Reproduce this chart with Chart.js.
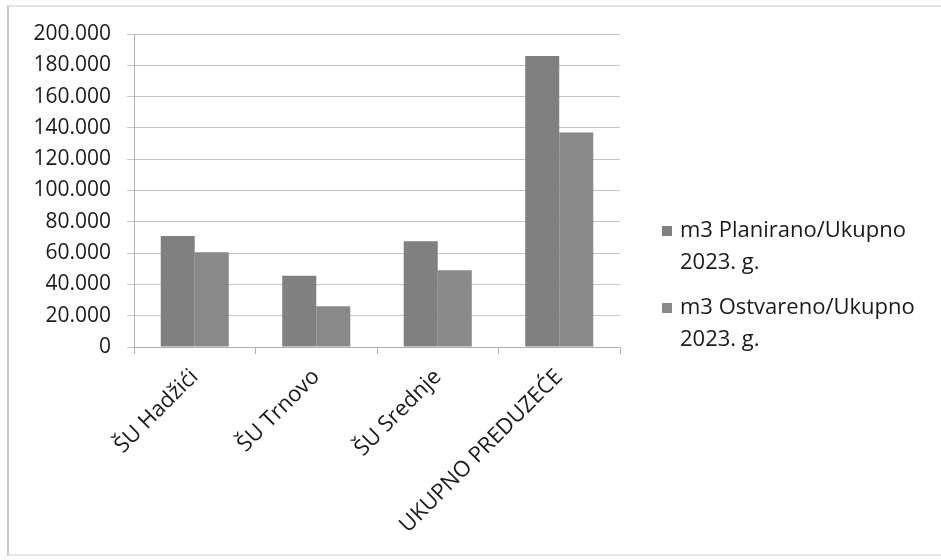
<!DOCTYPE html>
<html>
<head>
<meta charset="utf-8">
<script src="https://cdn.jsdelivr.net/npm/chart.js@4.4.1/dist/chart.umd.min.js"></script>
<style>
  html, body { margin: 0; padding: 0; background: #fff; }
  #wrap { position: relative; width: 941px; height: 560px; }
  #frame { position: absolute; left: 7px; top: 5px; width: 940px; height: 547px;
           border-left: 2px solid #c8c8c8; border-top: 2px solid #e4e4e4; border-bottom: 2px solid #e8e8e8; }
  canvas { position: absolute; left: 0; top: 0; }
</style>
</head>
<body>
<div id="wrap">
  <div id="frame"></div>
  <canvas id="grafikon" width="941" height="560"></canvas>
</div>
<script>
// Podaci sa grafikona
const kategorije = ['ŠU Hadžići', 'ŠU Trnovo', 'ŠU Srednje', 'UKUPNO PREDUZEĆE'];
const planirano = [71000, 45500, 67500, 186000];
const ostvareno = [60500, 26000, 49000, 137000];
const serije = [
  ['m3 Planirano/Ukupno', '2023. g.'],
  ['m3 Ostvareno/Ukupno', '2023. g.']
];
const bojeSerija = ['#808080', '#898989'];

const FONT = '"Open Sans", Lato, sans-serif';

// formatiranje brojeva sa tačkom kao separatorom hiljada
function formatBroj(v) {
  return String(v).replace(/\B(?=(\d{3})+(?!\d))/g, '.');
}

// legenda sa desne strane, tekst u dva reda
const legendaPlugin = {
  id: 'legendaDesno',
  afterDraw(chart) {
    const ctx = chart.ctx;
    const x = 662, startY = [231, 308];
    ctx.save();
    ctx.font = '22px ' + FONT;
    ctx.textBaseline = 'middle';
    chart.data.datasets.forEach((ds, i) => {
      ctx.fillStyle = ds.backgroundColor;
      ctx.fillRect(x, startY[i] - 5, 10, 10);
      ctx.fillStyle = '#1a1a1a';
      ds.label.forEach((red, j) => {
        ctx.fillText(red, x + 18, startY[i] + j * 32);
      });
    });
    ctx.restore();
  }
};

const ctx = document.getElementById('grafikon').getContext('2d');
new Chart(ctx, {
  type: 'bar',
  data: {
    labels: kategorije,
    datasets: [
      { label: serije[0], data: planirano, backgroundColor: bojeSerija[0] },
      { label: serije[1], data: ostvareno, backgroundColor: bojeSerija[1] }
    ]
  },
  options: {
    responsive: false,
    animation: false,
    layout: { padding: { left: 10, right: 321, top: 34, bottom: 5 } },
    plugins: { legend: { display: false }, tooltip: { enabled: false } },
    datasets: { bar: { categoryPercentage: 0.56, barPercentage: 1.0 } },
    scales: {
      x: {
        offset: true,
        afterFit: s => { s.height = 208; },
        grid: { offset: true, drawOnChartArea: false, color: '#b0b0b0', tickLength: 7 },
        border: { color: '#b0b0b0' },
        ticks: { maxRotation: 45, minRotation: 45, autoSkip: false, color: '#1a1a1a',
                 font: { family: FONT, size: 22 }, padding: 10 }
      },
      y: {
        min: 0, max: 200000,
        afterFit: s => { s.width = 124; },
        ticks: { stepSize: 20000, color: '#1a1a1a', font: { family: FONT, size: 21 }, padding: 16,
                 callback: v => formatBroj(v) },
        grid: { color: '#c4c4c4', tickLength: 7 },
        border: { color: '#b0b0b0' }
      }
    }
  },
  plugins: [legendaPlugin]
});
</script>
</body>
</html>
